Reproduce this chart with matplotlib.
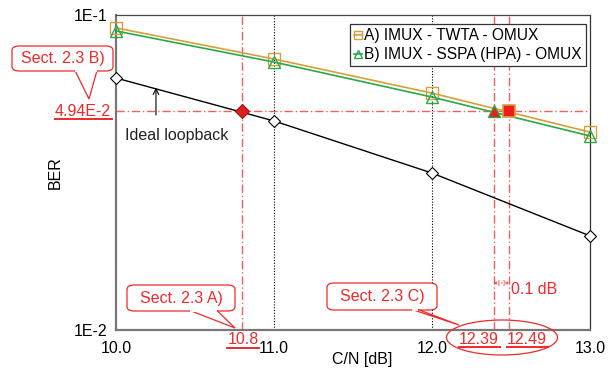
import numpy as np
import matplotlib
matplotlib.use("Agg")
import matplotlib.pyplot as plt
from matplotlib.patches import FancyBboxPatch, Ellipse, Polygon

plt.rcParams["font.family"] = ["Liberation Sans", "DejaVu Sans"]

# ─── Data ─────────────────────────────────────────────────────────────────────
cn_db = [10.0, 11.0, 12.0, 13.0]
ber_ideal = [0.0631, 0.0461, 0.0315, 0.0199]
ber_twta = [0.0910, 0.0725, 0.0565, 0.0425]
ber_sspa = [0.0890, 0.0709, 0.0549, 0.0413]

ber_target = 4.94e-2
cn_ideal = 10.8
cn_sspa = 12.39
cn_twta = 12.49

label_twta = "A) IMUX - TWTA - OMUX"
label_sspa = "B) IMUX - SSPA (HPA) - OMUX"

RED = "#ee2a2a"
ORANGE = "#d4a03c"
GREEN = "#2aa84a"
FS = 11.5

fig = plt.figure(figsize=(6.15, 3.69), dpi=100)
ax = fig.add_axes([0.1886, 0.1057, 0.7707, 0.8536])
ax.set_yscale("log")
ax.set_xlim(10.0, 13.0)
ax.set_ylim(1e-2, 1e-1)

# grid at 11 and 12
for xv in [11.0, 12.0]:
    ax.axvline(xv, color="black", ls=(0, (1, 1.5)), lw=0.8, zorder=1)

# red dash-dot guides
dd = (0, (6, 2, 1, 2))
ax.axhline(ber_target, color=RED, ls=dd, lw=1.0, alpha=0.75, zorder=1)
for xv in [cn_ideal, cn_sspa, cn_twta]:
    ax.axvline(xv, color=RED, ls=dd, lw=1.0, alpha=0.75, zorder=1)

ax.plot(cn_db, ber_ideal, color="black", lw=1.0, marker="D", ms=6,
        mfc="white", mec="black", mew=0.8, zorder=3, clip_on=False)
ax.plot(cn_db, ber_twta, color=ORANGE, lw=1.2, marker="s", ms=8,
        mfc="none", mec=ORANGE, mew=1.0, label=label_twta, zorder=3,
        clip_on=False)
ax.plot(cn_db, ber_sspa, color=GREEN, lw=1.2, marker="^", ms=8,
        mfc="none", mec=GREEN, mew=1.0, label=label_sspa, zorder=3,
        clip_on=False)

ax.plot([cn_ideal], [ber_target], marker="D", ms=7, mfc="#dd1f1f",
        mec="#a01010", mew=0.8, zorder=4)
ax.plot([cn_sspa], [ber_target], marker="^", ms=9, mfc="#ee1c1c",
        mec=GREEN, mew=1.0, zorder=4)
ax.plot([cn_twta], [ber_target], marker="s", ms=8, mfc="#ee1c1c",
        mec=ORANGE, mew=1.2, zorder=4)

# spines
for s in ["left", "bottom"]:
    ax.spines[s].set_color("#777777")
    ax.spines[s].set_linewidth(1.6)
ax.spines["right"].set_color("#333333")
ax.spines["right"].set_linewidth(0.9)
ax.spines["top"].set_color("#444444")
ax.spines["top"].set_linestyle((0, (1, 1)))
ax.spines["top"].set_linewidth(0.9)

ax.set_xticks(cn_db)
ax.set_xticklabels(["10.0", "11.0", "12.0", "13.0"])
ax.set_yticks([1e-2, 1e-1])
ax.set_yticklabels(["1E-2", "1E-1"])
ax.minorticks_off()
ax.tick_params(axis="x", length=0, labelsize=FS, pad=8)
ax.tick_params(axis="y", length=0, labelsize=FS, pad=6)
ax.get_xticklabels()[1].set_x(11.02)
ax.set_xlabel("C/N [dB]", fontsize=FS, va="center")
ax.xaxis.set_label_coords(0.519, (330 - 360) / 315.0)
ax.set_ylabel("BER", fontsize=FS, labelpad=8)

leg = ax.legend(loc="upper right", bbox_to_anchor=(1.008, 0.995),
                fontsize=11.2, handlelength=0.5, handletextpad=0.15,
                borderpad=0.25, labelspacing=0.25, fancybox=False,
                edgecolor="#333333", framealpha=1.0, markerscale=0.7)
leg.get_frame().set_linewidth(0.9)

# ─── Annotations (figure pixel coords) ────────────────────────────────────────
H = 369.0


def fx(px):
    return px / 615.0


def fy(py):
    return (H - py) / H


def callout(x0, y0, x1, y1, tail, text):
    box = FancyBboxPatch((fx(x0), fy(y1)), fx(x1 - x0), fy(y0) - fy(y1),
                         boxstyle="round,pad=0,rounding_size=0.012",
                         transform=fig.transFigure, fc="white", ec=RED,
                         lw=0.9, zorder=5)
    fig.add_artist(box)
    poly = Polygon([(fx(p[0]), fy(p[1])) for p in tail], closed=False,
                   transform=fig.transFigure, fill=False, ec=RED, lw=0.9,
                   zorder=6)
    fig.add_artist(poly)
    fig.text(fx((x0 + x1) / 2), fy((y0 + y1) / 2), text, color=RED,
             fontsize=FS, ha="center", va="center", zorder=7)


callout(12, 46, 113, 71, [(75, 70.5), (89, 99), (97, 70.5)], "Sect. 2.3 B)")
callout(127, 285, 235, 311, [(190, 310.5), (235, 328), (217, 310.5)],
        "Sect. 2.3 A)")
callout(327, 283, 437, 310, [(412, 309.5), (459, 325), (418, 309.5)],
        "Sect. 2.3 C)")

# cover the callout tail join on the box edge
for a, b, yy in [(76, 96, 71), (191, 216, 311), (413, 417, 310)]:
    fig.add_artist(plt.Line2D([fx(a), fx(b)], [fy(yy), fy(yy)],
                              transform=fig.transFigure, color="white",
                              lw=1.4, zorder=6))

ell = Ellipse((fx(502), fy(337.5)), fx(111), fy(320) - fy(355),
              transform=fig.transFigure, fill=False, ec=RED, lw=0.9, zorder=6)
fig.add_artist(ell)


def red_label(px, py, text, w):
    fig.text(fx(px), fy(py), text, color=RED, fontsize=FS, ha="center",
             va="center", zorder=7)
    fig.add_artist(plt.Line2D([fx(px - w / 2), fx(px + w / 2)],
                              [fy(py + 7.5), fy(py + 7.5)],
                              transform=fig.transFigure, color=RED, lw=1.4))


red_label(83, 111, "4.94E-2", 57)
red_label(243, 340, "10.8", 32)
red_label(479, 339.5, "12.39", 41)
red_label(527, 339.5, "12.49", 41)

# Ideal loopback arrow and label
ax.annotate("", xy=(10.253, 0.0600), xytext=(10.253, 0.0472),
            arrowprops=dict(arrowstyle="->", color="black", lw=0.8))
ax.text(10.055, 0.0413, "Ideal loopback", fontsize=FS, color="#222222",
        ha="left", va="center")

# 0.1 dB
ax.annotate("", xy=(cn_sspa, 0.0141), xytext=(cn_twta, 0.0141),
            arrowprops=dict(arrowstyle="<->", color=RED, lw=0.8, ls=":",
                            alpha=0.8, shrinkA=0, shrinkB=0,
                            mutation_scale=8))
ax.text(12.50, 0.0134, "0.1 dB", color=RED, fontsize=FS, ha="left",
        va="center")

fig.savefig("out.png", dpi=100)
